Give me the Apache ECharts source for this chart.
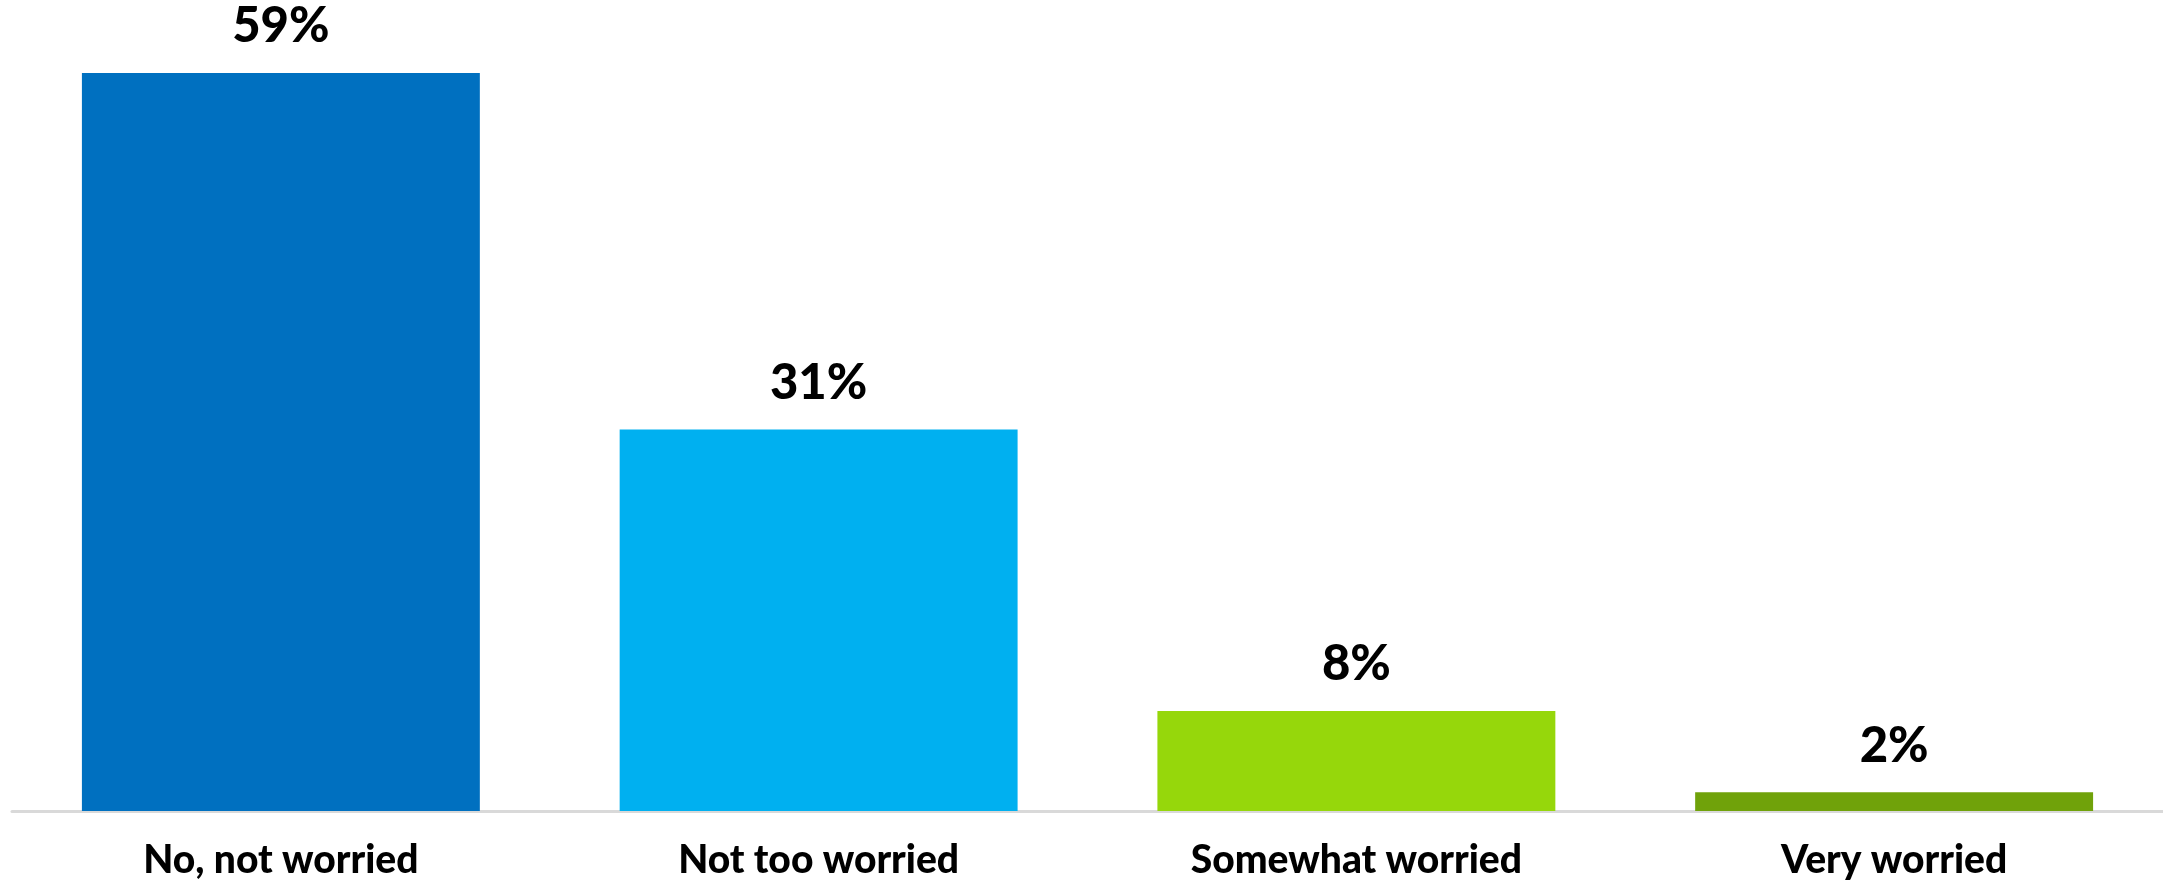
<!DOCTYPE html>
<html>
<head>
<meta charset="utf-8">
<script src="https://cdn.jsdelivr.net/npm/echarts@6/dist/echarts.min.js"></script>
<style>
html,body{margin:0;padding:0;background:#fff;}
#chart{width:2163px;height:884px;}
</style>
</head>
<body>
<div id="chart"></div>
<script>
const categories = ["No, not worried", "Not too worried", "Somewhat worried", "Very worried"];
const values = [59, 30.5, 8, 1.5];
const valueLabels = ["59%", "31%", "8%", "2%"];
const barColors = ["#0070C0", "#00B0F0", "#96D70B", "#70A20A"];

const chart = echarts.init(document.getElementById('chart'));
chart.setOption({
  animation: false,
  grid: { left: 12, right: 0, top: 73, bottom: 73 },
  xAxis: {
    type: 'category',
    data: categories,
    axisLine: { lineStyle: { color: '#D9D9D9', width: 3 } },
    axisTick: { show: false },
    axisLabel: {
      color: '#000', fontFamily: 'Lato', fontWeight: 900, fontSize: 39, margin: 30
    }
  },
  yAxis: { type: 'value', min: 0, max: 59, show: false, splitLine: { show: false } },
  series: [{
    type: 'bar',
    barWidth: '74%',
    data: values.map((v, i) => ({ value: v, itemStyle: { color: barColors[i] } })),
    label: {
      show: true, position: 'top', distance: 22,
      formatter: p => valueLabels[p.dataIndex],
      color: '#000', fontFamily: 'Lato', fontWeight: 900, fontSize: 49
    }
  }]
});
</script>
</body>
</html>
